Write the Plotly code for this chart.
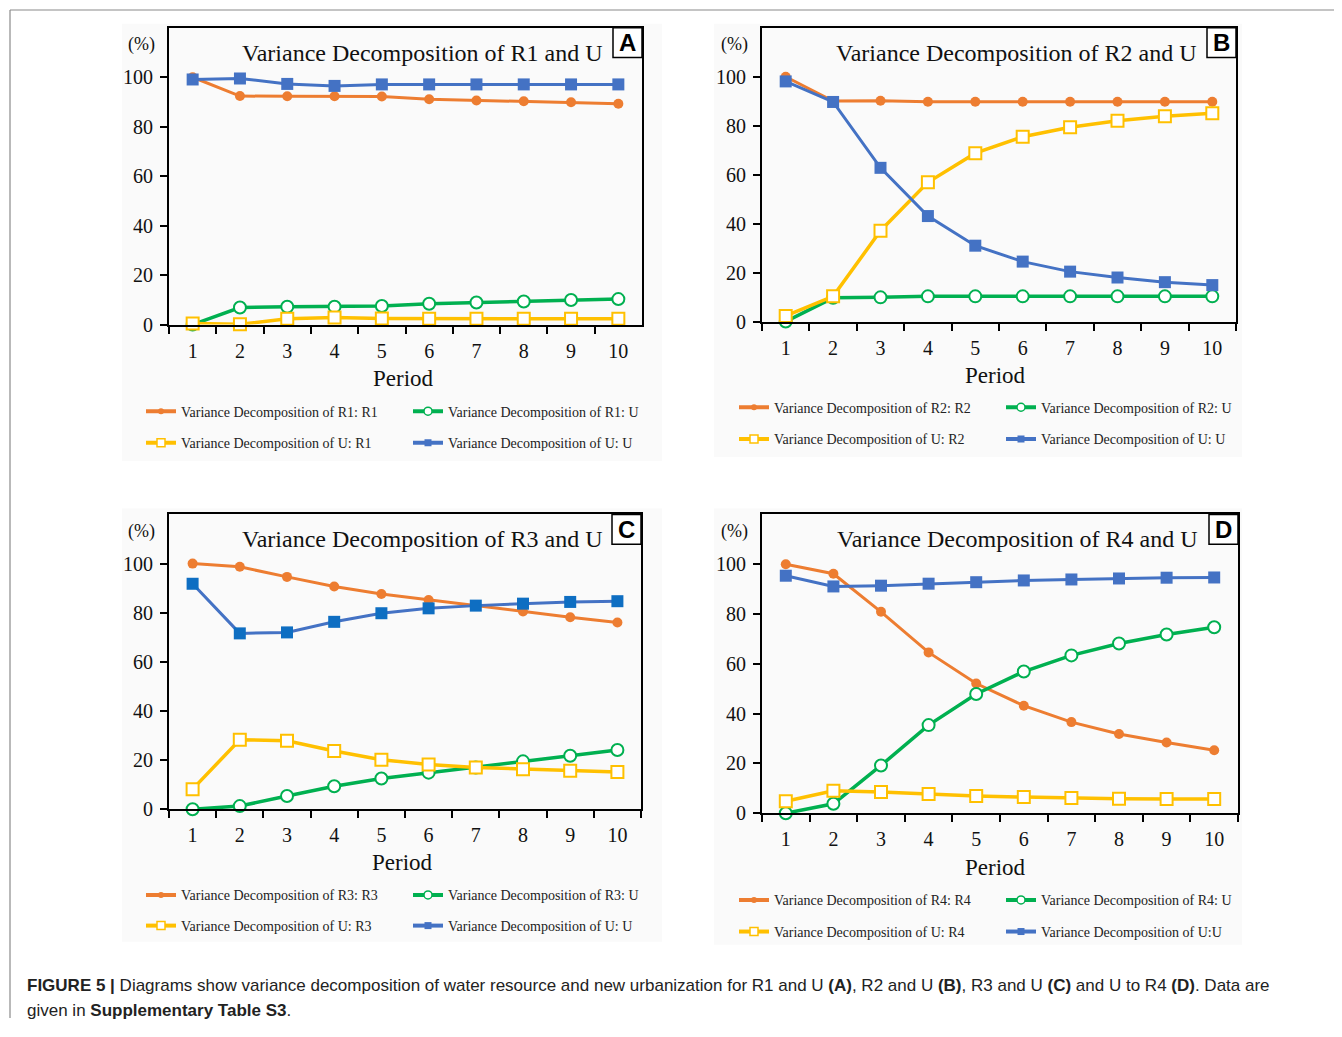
import plotly.graph_objects as go

# page body has an 8px margin; the figure is sized and positioned to compensate
OFF = 8
W, H = 1342 - OFF, 1037 - 2 * OFF

periods = ["1", "2", "3", "4", "5", "6", "7", "8", "9", "10"]
y_ticks = [0, 20, 40, 60, 80, 100]

# Panel A: R1 and U
a_r1_r1 = [100, 92.4, 92.3, 92.3, 92.2, 91.1, 90.6, 90.3, 89.9, 89.3]
a_r1_u = [0, 6.9, 7.2, 7.2, 7.5, 8.4, 8.9, 9.3, 9.9, 10.3]
a_u_r1 = [0.4, 0.1, 2.3, 2.8, 2.4, 2.3, 2.3, 2.3, 2.3, 2.3]
a_u_u = [99.1, 99.5, 97.3, 96.5, 97.1, 97.1, 97.1, 97.1, 97.1, 97.1]

# Panel B: R2 and U
b_r2_r2 = [100, 90.1, 90.2, 89.8, 89.8, 89.8, 89.8, 89.8, 89.8, 89.8]
b_r2_u = [0, 9.7, 9.9, 10.3, 10.3, 10.3, 10.3, 10.3, 10.3, 10.3]
b_u_r2 = [2.3, 10.3, 37.1, 56.9, 68.8, 75.5, 79.4, 82.0, 83.9, 85.1]
b_u_u = [98.1, 89.7, 62.8, 43.1, 31.0, 24.5, 20.4, 18.0, 16.1, 14.9]

# Panel C: R3 and U
c_r3_r3 = [100, 98.7, 94.6, 90.7, 87.6, 85.2, 82.8, 80.5, 78.2, 76.0]
c_r3_u = [0, 1.3, 5.4, 9.4, 12.5, 14.9, 17.0, 19.5, 21.8, 24.1]
c_u_r3 = [8.2, 28.3, 27.9, 23.7, 20.2, 18.2, 17.0, 16.3, 15.7, 15.2]
c_u_u = [91.8, 71.6, 72.0, 76.3, 79.8, 81.8, 82.9, 83.7, 84.4, 84.7]

# Panel D: R4 and U
d_r4_r4 = [100, 96.2, 80.9, 64.6, 52.1, 43.2, 36.6, 31.8, 28.4, 25.3]
d_r4_u = [0, 3.8, 19.2, 35.4, 47.9, 56.9, 63.4, 68.2, 71.8, 74.7]
d_u_r4 = [4.8, 9.0, 8.5, 7.7, 6.9, 6.5, 6.1, 5.8, 5.7, 5.7]
d_u_u = [95.4, 91.1, 91.4, 92.2, 92.8, 93.5, 93.9, 94.3, 94.6, 94.7]

titles = ["Variance Decomposition of R1 and U", "Variance Decomposition of R2 and U",
          "Variance Decomposition of R3 and U", "Variance Decomposition of R4 and U"]
letters = ["A", "B", "C", "D"]
legend_names = [
    ["Variance Decomposition of R1: R1", "Variance Decomposition of R1: U",
     "Variance Decomposition of U: R1", "Variance Decomposition of U: U"],
    ["Variance Decomposition of R2: R2", "Variance Decomposition of R2: U",
     "Variance Decomposition of U: R2", "Variance Decomposition of U: U"],
    ["Variance Decomposition of R3: R3", "Variance Decomposition of R3: U",
     "Variance Decomposition of U: R3", "Variance Decomposition of U: U"],
    ["Variance Decomposition of R4: R4", "Variance Decomposition of R4: U",
     "Variance Decomposition of U: R4", "Variance Decomposition of U:U"],
]
series = [
    [a_r1_r1, a_r1_u, a_u_r1, a_u_u],
    [b_r2_r2, b_r2_u, b_u_r2, b_u_u],
    [c_r3_r3, c_r3_u, c_u_r3, c_u_u],
    [d_r4_r4, d_r4_u, d_u_r4, d_u_u],
]

ORANGE, GREEN, YELLOW, BLUE = "#ED7D31", "#00B050", "#FFC000", "#4472C4"
BLUE_C_MARKER = "#0E6EC2"
SERIF = "Liberation Serif"


def data_style(k, panel):
    if k == 0:
        return dict(line=dict(color=ORANGE, width=3), marker=dict(symbol="circle", size=10, color=ORANGE))
    if k == 1:
        return dict(line=dict(color=GREEN, width=3.5),
                    marker=dict(symbol="circle", size=12, color="white", line=dict(color=GREEN, width=2)))
    if k == 2:
        return dict(line=dict(color=YELLOW, width=3.5),
                    marker=dict(symbol="square", size=12, color="white", line=dict(color=YELLOW, width=2)))
    mc = BLUE_C_MARKER if panel == 2 else BLUE
    return dict(line=dict(color=BLUE, width=3), marker=dict(symbol="square", size=12, color=mc))


legend_styles = [
    dict(line=dict(color=ORANGE, width=4), marker=dict(symbol="circle", size=6, color=ORANGE)),
    dict(line=dict(color=GREEN, width=4),
         marker=dict(symbol="circle", size=8, color="white", line=dict(color=GREEN, width=1.5))),
    dict(line=dict(color=YELLOW, width=4),
         marker=dict(symbol="square", size=8, color="white", line=dict(color=YELLOW, width=1.5))),
    dict(line=dict(color=BLUE, width=4), marker=dict(symbol="square", size=7, color=BLUE)),
]

# pixel geometry of each panel (left, right, top, bottom of plot frame) in screen pixels
frames = [(169, 642, 28, 328), (762, 1236, 28, 325), (169, 641, 520, 818), (762, 1238, 520, 822)]
bg_boxes = [(122, 662, 24, 466), (714, 1242, 24, 462), (122, 662, 514, 952), (714, 1242, 514, 955)]
legend_rows = [(133, 416, 448), (726, 412, 444), (133, 905, 936), (726, 910, 942)]
period_pos = [(403, 383), (995, 380), (402, 872), (995, 877)]


def fx(x):
    return (x - OFF) / W


def fy(y):
    return 1 - (y - OFF) / H


fig = go.Figure()
layout = dict(width=W, height=H, margin=dict(l=0, r=0, t=0, b=0),
              paper_bgcolor="white", plot_bgcolor="#fafafa", showlegend=True)
shapes = []
annotations = []

for p in range(4):
    ax = "" if p == 0 else str(p + 1)
    l, r, t, b = frames[p]
    layout["xaxis" + ax] = dict(
        domain=[fx(l), fx(r)], type="category", range=[-0.5, 9.5], tickson="boundaries",
        ticks="outside", ticklen=7, tickwidth=1.5, tickcolor="black", ticklabelstandoff=7,
        showline=True, mirror=True, linecolor="black", linewidth=2, showgrid=False,
        zeroline=False, anchor="y" + ax, fixedrange=True,
        tickfont=dict(family=SERIF, size=20, color="#111"))
    layout["yaxis" + ax] = dict(
        domain=[fy(b), fy(t)], range=[0, 120], tickvals=y_ticks,
        ticks="outside", ticklen=7, tickwidth=1.5, tickcolor="black", ticklabelstandoff=3,
        showline=True, mirror=True, linecolor="black", linewidth=2, showgrid=False,
        zeroline=False, anchor="x" + ax, fixedrange=True,
        tickfont=dict(family=SERIF, size=20, color="#111"))

    for k in range(4):
        leg_idx = p * 2 + (0 if k < 2 else 1)
        leg = "legend" if leg_idx == 0 else "legend" + str(leg_idx + 1)
        fig.add_trace(go.Scatter(
            x=periods, y=series[p][k], mode="lines+markers", name=legend_names[p][k],
            xaxis="x" + ax, yaxis="y" + ax, showlegend=False, cliponaxis=False, **data_style(k, p)))
        # legend-only entry with the smaller glyph used in the original key
        fig.add_trace(go.Scatter(
            x=[None], y=[None], mode="lines+markers", name=legend_names[p][k],
            xaxis="x" + ax, yaxis="y" + ax, legend=leg, showlegend=True, hoverinfo="skip",
            **legend_styles[k]))

    lx, r1y, r2y = legend_rows[p]
    for j, ry in enumerate((r1y, r2y)):
        leg_idx = p * 2 + j
        leg = "legend" if leg_idx == 0 else "legend" + str(leg_idx + 1)
        layout[leg] = dict(
            x=fx(lx + 8), y=fy(ry), xanchor="left", yanchor="middle", orientation="h",
            entrywidth=222, entrywidthmode="pixels", itemsizing="trace",
            bgcolor="rgba(0,0,0,0)", borderwidth=0, tracegroupgap=0,
            font=dict(family=SERIF, size=14, color="#222"))

    bl, br, bt, bb = bg_boxes[p]
    shapes.append(dict(type="rect", xref="paper", yref="paper", x0=fx(bl), x1=fx(br),
                       y0=fy(bb), y1=fy(bt), fillcolor="#fafafa", line=dict(width=0), layer="below"))
    # letter box
    shapes.append(dict(type="rect", xref="paper", yref="paper", x0=fx(r - 29), x1=fx(r),
                       y0=fy(t + 30), y1=fy(t), fillcolor="white", line=dict(color="black", width=1.5)))
    annotations.append(dict(x=fx(r - 14.5), y=fy(t + 15), xref="paper", yref="paper",
                            text="<b>" + letters[p] + "</b>", showarrow=False,
                            font=dict(family="Liberation Sans", size=24, color="black"),
                            xanchor="center", yanchor="middle"))
    annotations.append(dict(x=fx((l + r) / 2 - 16 + (r - l) * 0.07), y=fy(t + 25), xref="paper", yref="paper",
                            text=titles[p], showarrow=False,
                            font=dict(family=SERIF, size=24, color="#111"),
                            xanchor="center", yanchor="middle"))
    annotations.append(dict(x=fx(l - 28), y=fy(t + 17), xref="paper", yref="paper",
                            text="(%)", showarrow=False,
                            font=dict(family=SERIF, size=18, color="#111"),
                            xanchor="center", yanchor="middle"))
    px_, py_ = period_pos[p]
    annotations.append(dict(x=fx(px_), y=fy(py_), xref="paper", yref="paper",
                            text="Period", showarrow=False,
                            font=dict(family=SERIF, size=23, color="#111"),
                            xanchor="center", yanchor="middle"))

# outer figure border
shapes.append(dict(type="line", xref="paper", yref="paper", x0=fx(10), x1=1, y0=fy(10), y1=fy(10),
                   line=dict(color="#8a8a8a", width=1.2)))
shapes.append(dict(type="line", xref="paper", yref="paper", x0=fx(10), x1=fx(10), y0=fy(10), y1=0,
                   line=dict(color="#8a8a8a", width=1.2)))

caption1 = ("<b>FIGURE 5 |</b> Diagrams show variance decomposition of water resource and new urbanization "
            "for R1 and U <b>(A)</b>, R2 and U <b>(B)</b>, R3 and U <b>(C)</b> and U to R4 <b>(D)</b>. Data are")
caption2 = "given in <b>Supplementary Table S3</b>."
annotations.append(dict(x=fx(25), y=fy(996), xref="paper", yref="paper", text=caption1, showarrow=False,
                        xanchor="left", yanchor="middle",
                        font=dict(family="Liberation Sans", size=17, color="#222")))
annotations.append(dict(x=fx(25), y=fy(1021), xref="paper", yref="paper", text=caption2, showarrow=False,
                        xanchor="left", yanchor="middle",
                        font=dict(family="Liberation Sans", size=17, color="#222")))

layout["shapes"] = shapes
layout["annotations"] = annotations
fig.update_layout(**layout)
fig.write_html("out.html")
